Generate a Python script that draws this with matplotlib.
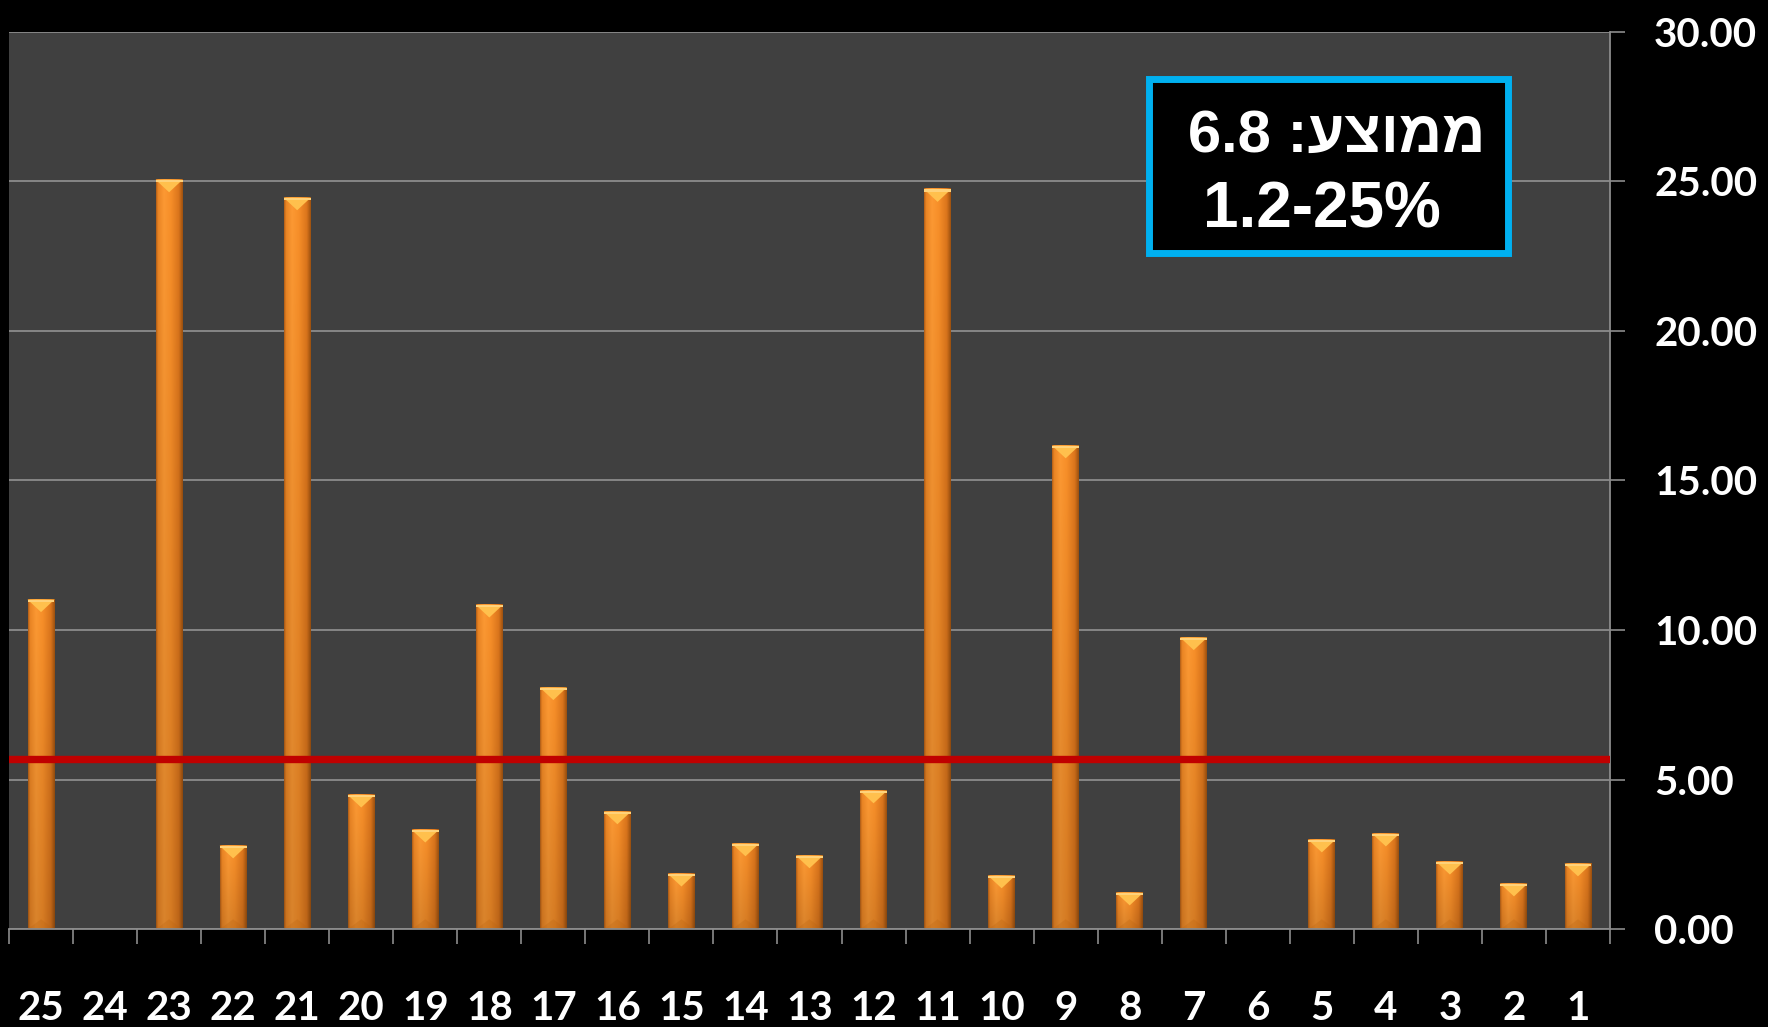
import matplotlib
matplotlib.use('Agg')
import matplotlib.pyplot as plt
import numpy as np
from matplotlib.patches import Polygon, Rectangle

# ---- data ----
categories = [str(i) for i in range(25, 0, -1)]
values = [11.02, 0, 25.05, 2.79, 24.45, 4.49, 3.32, 10.84, 8.08, 3.93,
          1.85, 2.86, 2.46, 4.63, 24.73, 1.79, 16.16, 1.22, 9.75, 0,
          2.99, 3.19, 2.25, 1.52, 2.19]
avg_line = 5.68
y_ticks = [0, 5, 10, 15, 20, 25, 30]
box_line1 = "6.8 :עצוממ"   # visual order of "ממוצע: 6.8"
box_line2 = "1.2-25%"

W, H = 1768, 1027
fig = plt.figure(figsize=(W / 100, H / 100), dpi=100, facecolor='black')
ax = fig.add_axes([9 / W, 1 - 929.3 / H, (1610 - 9) / W, (929.3 - 31.6) / H])
ax.set_facecolor('#404040')

x = np.arange(len(categories))
bw = 0.42

# base bars through the library
bars = ax.bar(x, values, width=bw, color='#F28A23', zorder=2, linewidth=0)

# gradient shading image (horizontal + vertical)
xs = np.linspace(0, 1, 64)
stops_x = [0, 0.07, 0.3, 0.55, 0.85, 1.0]
cols = np.array([[0.70, 0.37, 0.09], [0.92, 0.52, 0.14], [0.99, 0.60, 0.20],
                 [0.97, 0.56, 0.16], [0.86, 0.46, 0.11], [0.62, 0.32, 0.06]])
row = np.stack([np.interp(xs, stops_x, cols[:, c]) for c in range(3)], axis=-1)
ys = np.linspace(0, 1, 64)
fac = 0.86 + 0.14 * ys
img = np.clip(row[None, :, :] * fac[:, None, None], 0, 1)

bevel = 0.42  # data units
for b in bars:
    h = b.get_height()
    if h <= 0:
        continue
    x0 = b.get_x()
    x1 = x0 + b.get_width()
    xc = (x0 + x1) / 2
    ax.imshow(img, extent=[x0, x1, 0, h], origin='lower', aspect='auto',
              interpolation='bilinear', zorder=2.1)
    d = min(bevel, h * 0.5)
    ax.add_patch(Polygon([(x0, h), (x1, h), (xc, h - d)], closed=True,
                         facecolor='#FFC04D', edgecolor='none', zorder=2.2))
    ax.add_patch(Polygon([(x0, h), (x1, h), (x1, h - 0.08), (x0, h - 0.08)],
                         closed=True, facecolor='#FFD27A', edgecolor='none', zorder=2.3))
    ax.add_patch(Polygon([(x0, 0), (x1, 0), (xc, d * 0.8)], closed=True,
                         facecolor='#B8620F', alpha=0.25, edgecolor='none', zorder=2.2))

ax.axhline(avg_line, color='#C00000', lw=5.3, zorder=3)

ax.set_xlim(-0.5, len(categories) - 0.5)
ax.set_ylim(0, 30)

ax.yaxis.tick_right()
ax.set_yticks(y_ticks)
ax.set_yticklabels([f"{v:.2f}" for v in y_ticks])
ax.grid(axis='y', color='#8c8c8c', lw=1.3, zorder=1)
ax.set_axisbelow(True)

ax.set_xticks(x)
ax.set_xticklabels(categories)
ax.set_xticks(np.arange(-0.5, len(categories), 1), minor=True)
ax.tick_params(axis='x', which='major', length=0, pad=44,
               labelcolor='white', labelsize=29)
ax.tick_params(axis='x', which='minor', length=10.8, width=1.2,
               color='#8c8c8c', direction='out')
ax.tick_params(axis='y', which='major', length=10.8, width=1.2,
               color='#8c8c8c', pad=21, labelcolor='white', labelsize=29)
for lab in ax.get_xticklabels() + ax.get_yticklabels():
    lab.set_fontfamily('Lato')
    lab.set_fontweight('bold')

for s in ['left', 'top']:
    ax.spines[s].set_visible(False)
for s in ['right', 'bottom']:
    ax.spines[s].set_color('#8c8c8c')
    ax.spines[s].set_linewidth(1.3)

# text box
fig.add_artist(Rectangle((1149 / W, 1 - 253 / H), 359 / W, 174 / H,
                         transform=fig.transFigure, facecolor='black',
                         edgecolor='#00B0F0', lw=5, zorder=5))
fig.text(1337 / W, 1 - 152 / H, box_line1, ha='center', va='baseline',
         color='white', fontsize=43, fontweight='bold',
         family=['Liberation Sans', 'DejaVu Sans'], zorder=6)
fig.text(1321.5 / W, 1 - 227 / H, box_line2, ha='center', va='baseline',
         color='white', fontsize=46, fontweight='bold',
         family=['Liberation Sans', 'DejaVu Sans'], zorder=6)

fig.savefig('out.png', dpi=100, facecolor='black')
